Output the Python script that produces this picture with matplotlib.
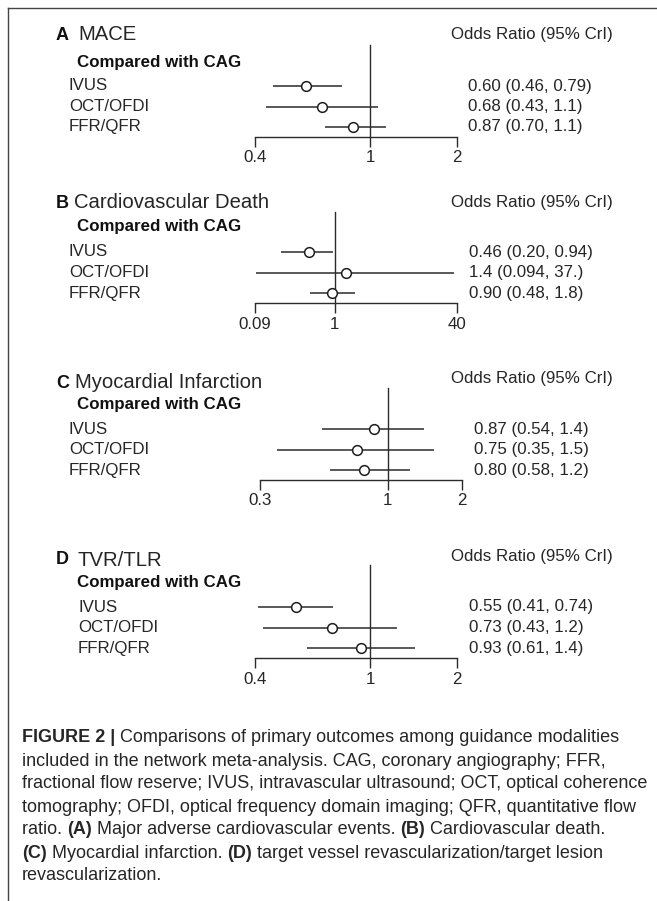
import matplotlib
matplotlib.use("Agg")
import matplotlib.pyplot as plt
from matplotlib.lines import Line2D
from matplotlib.transforms import blended_transform_factory

W, H, DPI = 657, 901, 100
TEXT = "#262626"
LINE = "#2b2b2b"

plt.rcParams["font.family"] = ["Liberation Sans", "DejaVu Sans"]

# ---- data ----
modalities = ["IVUS", "OCT/OFDI", "FFR/QFR"]
panel_letters = ["A", "B", "C", "D"]
panel_titles = ["MACE", "Cardiovascular Death", "Myocardial Infarction", "TVR/TLR"]

mace_or = [0.60, 0.68, 0.87]
mace_lo = [0.46, 0.436, 0.70]
mace_hi = [0.80, 1.07, 1.14]
mace_txt = ["0.60 (0.46, 0.79)", "0.68 (0.43, 1.1)", "0.87 (0.70, 1.1)"]

cvd_or = [0.46, 1.4, 0.91]
cvd_lo = [0.20, 0.094, 0.47]
cvd_hi = [0.95, 37.0, 1.84]
cvd_txt = ["0.46 (0.20, 0.94)", "1.4 (0.094, 37.)", "0.90 (0.48, 1.8)"]

mi_or = [0.88, 0.75, 0.80]
mi_lo = [0.54, 0.353, 0.58]
mi_hi = [1.40, 1.55, 1.23]
mi_txt = ["0.87 (0.54, 1.4)", "0.75 (0.35, 1.5)", "0.80 (0.58, 1.2)"]

tvr_or = [0.553, 0.737, 0.928]
tvr_lo = [0.409, 0.427, 0.607]
tvr_hi = [0.743, 1.24, 1.43]
tvr_txt = ["0.55 (0.41, 0.74)", "0.73 (0.43, 1.2)", "0.93 (0.61, 1.4)"]

mace_ticks = [0.4, 1, 2]
cvd_ticks = [0.09, 1, 40]
mi_ticks = [0.3, 1, 2]
tvr_ticks = [0.4, 1, 2]
mace_ticklabels = ["0.4", "1", "2"]
cvd_ticklabels = ["0.09", "1", "40"]
mi_ticklabels = ["0.3", "1", "2"]
tvr_ticklabels = ["0.4", "1", "2"]

caption_lines = [
    [("FIGURE 2 |", True), (" Comparisons of primary outcomes among guidance modalities", False)],
    [("included in the network meta-analysis. CAG, coronary angiography; FFR,", False)],
    [("fractional flow reserve; IVUS, intravascular ultrasound; OCT, optical coherence", False)],
    [("tomography; OFDI, optical frequency domain imaging; QFR, quantitative flow", False)],
    [("ratio. ", False), ("(A)", True), (" Major adverse cardiovascular events. ", False),
     ("(B)", True), (" Cardiovascular death.", False)],
    [("(C)", True), (" Myocardial infarction. ", False), ("(D)", True),
     (" target vessel revascularization/target lesion", False)],
    [("revascularization.", False)],
]

# ---- layout in pixels ----
panels = [
    dict(or_=mace_or, lo=mace_lo, hi=mace_hi, txt=mace_txt, ticks=mace_ticks, tl=mace_ticklabels,
         title_y=35, title_x=78, odds_y=35, cmp_y=62, rows=[86, 106.5, 127], axis_y=137, vtop=45,
         x0=255, x1=457, val_x=468, lab_x=69),
    dict(or_=cvd_or, lo=cvd_lo, hi=cvd_hi, txt=cvd_txt, ticks=cvd_ticks, tl=cvd_ticklabels,
         title_y=203, title_x=74, odds_y=203, cmp_y=227, rows=[252, 272.7, 293.3], axis_y=303.3,
         vtop=212, x0=255, x1=457, val_x=469, lab_x=69),
    dict(or_=mi_or, lo=mi_lo, hi=mi_hi, txt=mi_txt, ticks=mi_ticks, tl=mi_ticklabels,
         title_y=383, title_x=75, odds_y=378, cmp_y=404, rows=[429, 449.3, 470], axis_y=480,
         vtop=388, x0=260, x1=461.5, val_x=474, lab_x=69),
    dict(or_=tvr_or, lo=tvr_lo, hi=tvr_hi, txt=tvr_txt, ticks=tvr_ticks, tl=tvr_ticklabels,
         title_y=560, title_x=77, odds_y=557, cmp_y=583, rows=[607, 628, 648], axis_y=658.3,
         vtop=565, x0=255, x1=457, val_x=469, lab_x=78),
]

BODY = 12.2
TITLE = 14.6


def fx(px):
    return px / W


def fy(py):
    return 1 - py / H


fig = plt.figure(figsize=(W / DPI, H / DPI), dpi=DPI)
fig.patch.set_facecolor("white")

# frame lines (top and left)
fig.add_artist(Line2D([fx(8), 1], [fy(8), fy(8)], color="#444444", lw=1.0))
fig.add_artist(Line2D([fx(8), fx(8)], [fy(8), 0], color="#444444", lw=1.0))

for letter, title, p in zip(panel_letters, panel_titles, panels):
    rows = p["rows"]
    dy = (rows[2] - rows[0]) / 2.0
    # axes box spans from the top of the reference line to the axis line
    y_top = -(rows[0] - p["vtop"]) / dy
    y_bot = 2 + (p["axis_y"] - rows[2]) / dy
    ax = fig.add_axes([fx(p["x0"]), fy(p["axis_y"]), fx(p["x1"]) - fx(p["x0"]),
                       (p["axis_y"] - p["vtop"]) / H])
    ax.set_xscale("log")
    ax.set_xlim(p["ticks"][0], p["ticks"][-1])
    ax.set_ylim(y_bot, y_top)
    ax.patch.set_visible(False)
    for s in ["top", "left", "right"]:
        ax.spines[s].set_visible(False)
    ax.spines["bottom"].set_color(LINE)
    ax.spines["bottom"].set_linewidth(1.0)
    ax.set_yticks([])
    ax.set_xticks(p["ticks"])
    ax.set_xticklabels(p["tl"])
    ax.xaxis.set_minor_locator(matplotlib.ticker.NullLocator())
    ax.tick_params(axis="x", direction="out", length=7.2, width=1.0, color=LINE,
                   labelsize=BODY, labelcolor=TEXT, pad=2.5)

    # reference line at OR = 1
    ax.plot([1, 1], [y_top, y_bot], color=LINE, lw=1.0, clip_on=False)

    ypos = list(range(len(modalities)))
    ax.hlines(ypos, p["lo"], p["hi"], color=LINE, lw=1.1, clip_on=False)
    ax.plot(p["or_"], ypos, "o", ms=7.0, mfc="white", mec="#1e1e1e", mew=1.1,
            clip_on=False, zorder=3)

    tr = blended_transform_factory(fig.transFigure, ax.transData)
    for i, name in enumerate(modalities):
        ax.text(fx(p["lab_x"]), i, name, transform=tr, fontsize=BODY, color=TEXT,
                ha="left", va="center")
        ax.text(fx(p["val_x"]), i, p["txt"][i], transform=tr, fontsize=BODY,
                color=TEXT, ha="left", va="center")

    fig.text(fx(56), fy(p["title_y"]), letter, fontsize=13, fontweight="bold",
             color="#111111", ha="left", va="center")
    fig.text(fx(p["title_x"]), fy(p["title_y"]), title, fontsize=TITLE, color=TEXT,
             ha="left", va="center")
    fig.text(fx(451), fy(p["odds_y"]), "Odds Ratio (95% CrI)", fontsize=BODY,
             color=TEXT, ha="left", va="center")
    fig.text(fx(77), fy(p["cmp_y"]), "Compared with CAG", fontsize=BODY,
             fontweight="bold", color="#111111", ha="left", va="center")

# ---- caption ----
renderer = fig.canvas.get_renderer()
probe = fig.text(0, 0, caption_lines[2][0][0], fontsize=11)
cap_size = 11 * 624.0 / probe.get_window_extent(renderer=renderer).width
probe.remove()

cap_y0, cap_dy = 738, 23
for k, runs in enumerate(caption_lines):
    x = 22
    for txt, bold in runs:
        t = fig.text(fx(x), fy(cap_y0 + k * cap_dy), txt, fontsize=cap_size,
                     fontweight="bold" if bold else "normal",
                     color=TEXT, ha="left", va="center")
        x += t.get_window_extent(renderer=renderer).width

fig.savefig("out.png", dpi=DPI, facecolor="white")
